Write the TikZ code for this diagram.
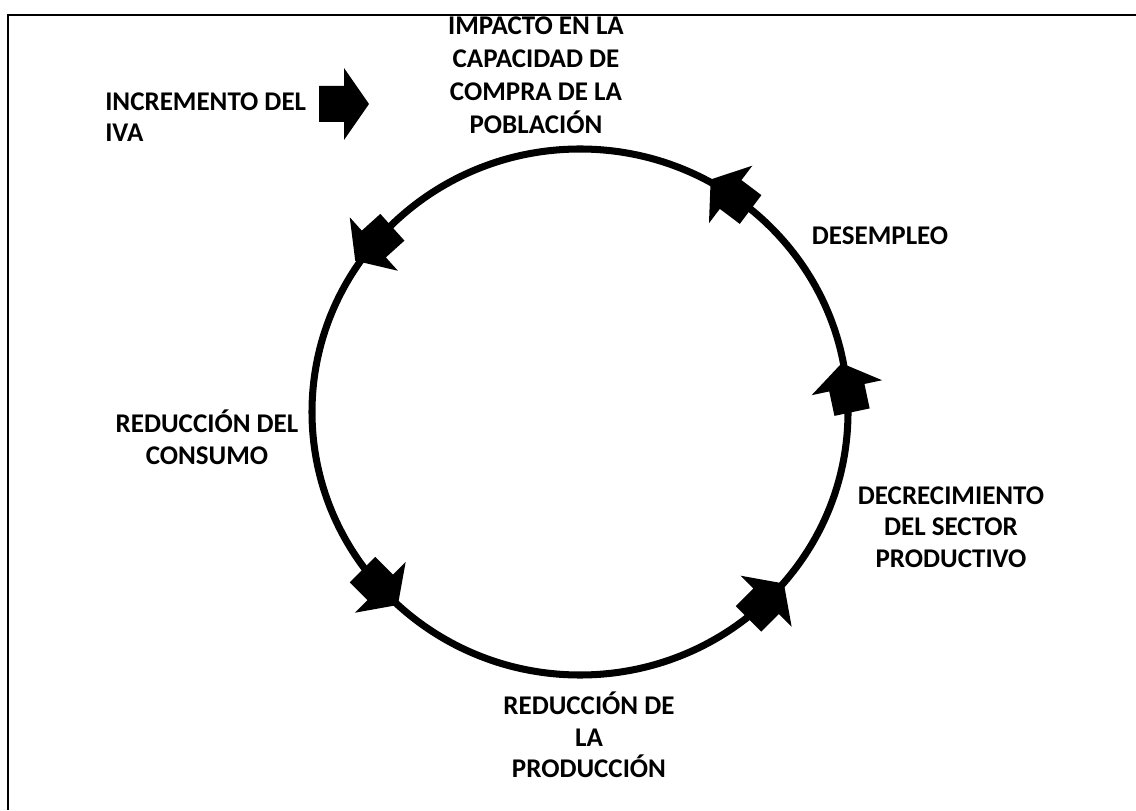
\documentclass[tikz,border=0pt]{standalone}
\usepackage{fontspec}
\setmainfont{Carlito}
\begin{document}
\begin{tikzpicture}[x=0.025cm,y=0.025cm,
  lbl/.style={font=\bfseries\fontsize{19.2}{22.5}\selectfont,align=center,inner sep=0pt},
  blockarrow/.pic={\fill (-25,-18) -- (0,-18) -- (0,-36) -- (25,0) -- (0,36) -- (0,18) -- (-25,18) -- cycle;}]
  \useasboundingbox (0,0) rectangle (1136,810);
  \draw[line width=1pt] (8,0) -- (8,795) -- (1136,795);
  \node[lbl,anchor=west,align=left] (iva) at (105,693) {INCREMENTO DEL\\IVA};
  \pic at (344,706) {blockarrow};
  \node[lbl,font=\bfseries\fontsize{19.2}{23.5}\selectfont] (impacto) at (536,735) {IMPACTO EN LA\\CAPACIDAD DE\\COMPRA DE LA\\POBLACIÓN};
  \node[lbl] (desempleo) at (880,574) {DESEMPLEO};
  \node[lbl] (consumo) at (207,373) {REDUCCIÓN DEL\\CONSUMO};
  \node[lbl] (sector) at (951,283) {DECRECIMIENTO\\DEL SECTOR\\PRODUCTIVO};
  \node[lbl] (produccion) at (589,75) {REDUCCIÓN DE\\LA\\PRODUCCIÓN};
  % ciclo
  \coordinate (c) at (580,398);
  \draw[line width=5pt] (c) ellipse [x radius=268,y radius=263];
  \foreach \t/\r in {140.3/222,221.8/315,314/45,5.3/102,55.8/143}
    \path (c) ++(\t:268 and 263) pic[rotate=\r] {blockarrow};
\end{tikzpicture}
\end{document}
